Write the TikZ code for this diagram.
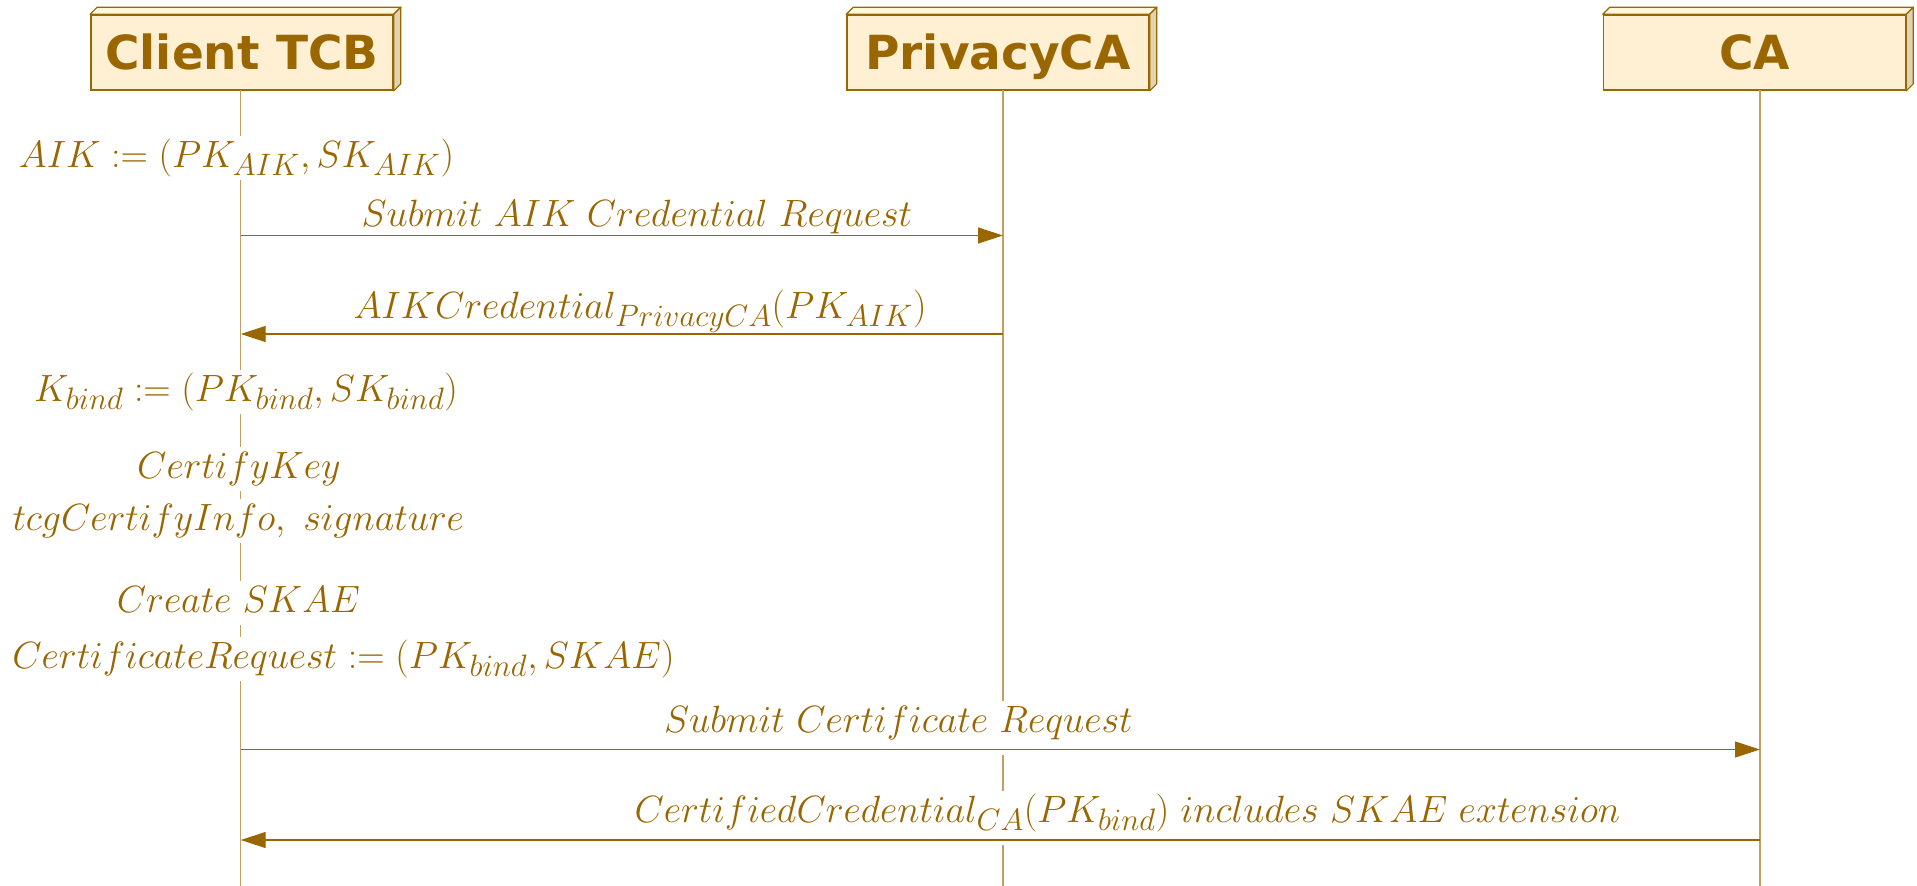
\RequirePackage{fix-cm}
\documentclass[tikz,border=0pt]{standalone}
\usepackage{fontspec}
\newfontfamily\hdrfont{DejaVu Sans}
\usetikzlibrary{arrows.meta}
\DeclareMathSizes{38}{38}{31}{22}
\definecolor{umlink}{RGB}{153,102,0}
\definecolor{lifecol}{RGB}{196,160,96}
\definecolor{boxfill}{RGB}{255,240,212}
\definecolor{topface}{RGB}{255,248,220}
\definecolor{sideface}{RGB}{224,210,178}
\begin{document}
\begin{tikzpicture}[x=1pt,y=-1pt,
  participant/.style={draw=umlink, line width=1.6pt, fill=boxfill,
    minimum width=302pt, minimum height=75pt, inner sep=0pt, text=umlink,
    font=\hdrfont\bfseries\fontsize{47}{56}\selectfont,
    text height=34pt, text depth=0pt},
  lifeline/.style={draw=lifecol, line width=1.2pt},
  msg/.style={draw=umlink, line width=1.2pt, -{Triangle[length=25pt,width=16pt]}},
  note/.style={fill=white, text=umlink, inner xsep=2pt, inner ysep=3pt,
    text height=28pt, text depth=10pt, font=\fontsize{38}{46}\selectfont, anchor=base},
  msglabel/.style={note, text depth=20pt}
]
\useasboundingbox (0,0) rectangle (1917,886);

% participants with a shallow 3-D edge
\foreach \nm/\cx/\txt in {client/242/Client TCB, pca/998/PrivacyCA, ca/1754.5/CA}{
  \node[participant] (\nm) at (\cx,52.5) {\txt};
  \fill[topface, draw=umlink, line width=1.2pt, line join=round]
    (\nm.north west) -- ([xshift=7pt,yshift=7pt]\nm.north west)
    -- ([xshift=7pt,yshift=7pt]\nm.north east) -- (\nm.north east) -- cycle;
  \fill[sideface, draw=umlink, line width=1.2pt, line join=round]
    (\nm.north east) -- ([xshift=7pt,yshift=7pt]\nm.north east)
    -- ([xshift=7pt,yshift=7pt]\nm.south east) -- (\nm.south east) -- cycle;
}

% lifelines
\coordinate (cl-top) at (240.7,90);  \coordinate (cl-bot) at (240.7,886);
\coordinate (pc-top) at (1003,90);   \coordinate (pc-bot) at (1003,886);
\coordinate (ca-top) at (1760,90);   \coordinate (ca-bot) at (1760,886);
\draw[lifeline] (cl-top) -- (cl-bot);
\draw[lifeline] (pc-top) -- (pc-bot);
\draw[lifeline] (ca-top) -- (ca-bot);

% local steps on the client
\node[note] (aik)   at (236.5,167) {$AIK := (PK_{AIK}, SK_{AIK})$};
\node[note] (kbind) at (246,401)   {$K_{bind} := (PK_{bind}, SK_{bind})$};
\node[note] (cert)  at (239,478)   {$CertifyKey$};
\node[note] (tcg)   at (238.5,530) {$tcgCertifyInfo,\ signature$};
\node[note] (skae)  at (238.5,612) {$Create\ SKAE$};
\node[note] (creq)  at (343.5,668) {$CertificateRequest := (PK_{bind}, SKAE)$};

% message labels
\node[msglabel] (l1) at (637,226)    {$Submit\ AIK\ Credential\ Request$};
\node[msglabel] (l2) at (640,318)    {$AIKCredential_{PrivacyCA}(PK_{AIK})$};
\node[msglabel] (l3) at (898.5,732)  {$Submit\ Certificate\ Request$};
\node[msglabel] (l4) at (1127.5,822) {$CertifiedCredential_{CA}(PK_{bind})\ includes\ SKAE\ extension$};

% message end points on the lifelines
\coordinate (m1a) at (240.7,235.5); \coordinate (m1b) at (1003,235.5);
\coordinate (m2a) at (1003,334);    \coordinate (m2b) at (240.7,334);
\coordinate (m3a) at (240.7,749.5); \coordinate (m3b) at (1760,749.5);
\coordinate (m4a) at (1760,840);    \coordinate (m4b) at (240.7,840);

\draw[msg] (m1a) -- (m1b);
\draw[msg] (m2a) -- (m2b);
\draw[msg] (m3a) -- (m3b);
\draw[msg] (m4a) -- (m4b);
\end{tikzpicture}
\end{document}
